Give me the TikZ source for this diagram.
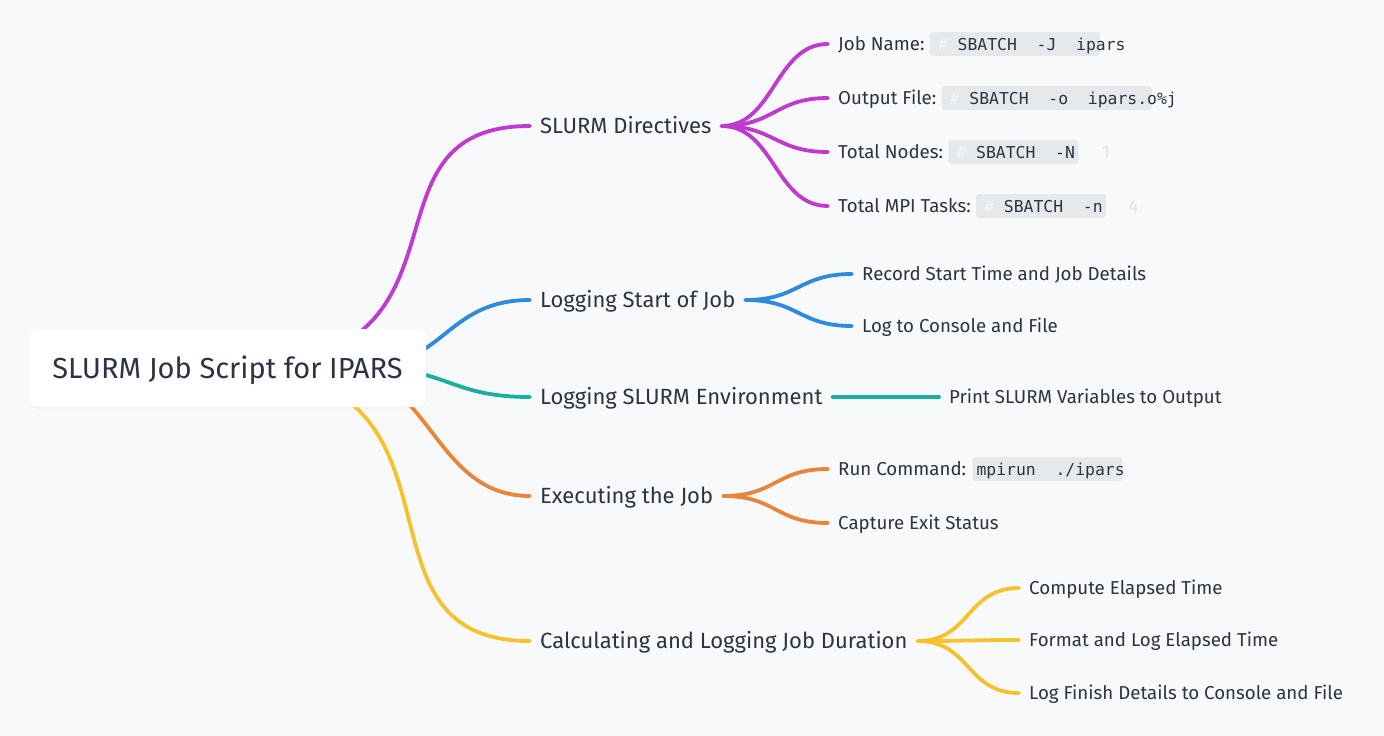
\documentclass[tikz,border=0pt]{standalone}
\usepackage{fontspec}
\setmainfont{Fira Sans}
\setmonofont{DejaVu Sans Mono}
\usetikzlibrary{calc, shadows}
\definecolor{page_bg}{HTML}{F8F9FA}
\definecolor{ink}{HTML}{2A3442}
\definecolor{code_bg}{HTML}{E6E9EC}
\definecolor{faint_gray}{HTML}{E2E5E8}
\definecolor{hash_gray}{HTML}{F4F5F7}
\definecolor{purple_set}{HTML}{BF3ACF}
\definecolor{blue_set}{HTML}{2F89DC}
\definecolor{teal_set}{HTML}{1AAE9E}
\definecolor{orange_set}{HTML}{E9853A}
\definecolor{yellow_set}{HTML}{F5C22C}
\newcommand{\hash}{{\color{hash_gray}\#}}
\tikzset{
  root box/.style={fill=white, rounded corners=8pt, minimum width=397pt,
    minimum height=78pt, inner sep=0pt, text height=20pt, text depth=0pt,
    font=\fontsize{29}{34}\selectfont, text=ink,
    drop shadow={opacity=0.05, shadow xshift=0pt, shadow yshift=-2pt}},
  branch/.style={anchor=west, inner xsep=10pt, inner ysep=0pt,
    text height=15.2pt, text depth=0pt, text=ink,
    font=\fontsize{22}{26}\selectfont},
  leaf/.style={branch, text height=12.9pt, font=\fontsize{18.7}{22}\selectfont},
  code/.style={anchor=west, inner sep=0pt, text height=12pt, text depth=0pt,
    text=ink, font=\ttfamily\fontsize{16.4}{20}\selectfont},
  code box/.style={fill=code_bg, rounded corners=3pt},
  faint/.style={inner sep=0pt, text=faint_gray, font=\fontsize{18.7}{22}\selectfont},
  link/.style={line width=3.8pt, line cap=round},
  kid link/.style={link, to path={.. controls +(53,0) and +(-53,0) .. (\tikztotarget)}}
}

\begin{document}
\begin{tikzpicture}[x=1pt, y=-1pt]

% Page background
\fill[page_bg] (0,0) rectangle (1384,736);
\useasboundingbox (0,0) rectangle (1384,736);

% Main branches
\node[branch] (slurm)    at (530,126) {SLURM Directives};
\node[branch] (logstart) at (530,300) {Logging Start of Job};
\node[branch] (logenv)   at (530,397) {Logging SLURM Environment};
\node[branch] (exec)     at (530,496) {Executing the Job};
\node[branch] (duration) at (530,641) {Calculating and Logging Job Duration};

% Leaves of the directives
\node[leaf] (jobname) at (828,44)  {Job Name:};
\node[leaf] (outfile) at (828,98)  {Output File:};
\node[leaf] (nodes)   at (828,152) {Total Nodes:};
\node[leaf] (tasks)   at (828,206) {Total MPI Tasks:};

% Draw the code snippets next to them
\fill[code box] ($(jobname.east)+(-5,-12)$) rectangle ++(170,24);
\node[code] (jobcode) at ($(jobname.east)+(3,0)$) {\hash~SBATCH~~-J~~ipars};
\fill[code box] ($(outfile.east)+(-5,-12)$) rectangle ++(210,24);
\node[code] (outcode) at ($(outfile.east)+(3,0)$) {\hash~SBATCH~~-o~~ipars.o\%j};
\fill[code box] ($(nodes.east)+(-5,-12)$) rectangle ++(130,24);
\node[code] (nodecode) at ($(nodes.east)+(3,0)$) {\hash~SBATCH~~-N};
\node[faint] (nodecount) at ($(nodes.east)+(152.5,0)$) {1};
\fill[code box] ($(tasks.east)+(-5,-12)$) rectangle ++(130,24);
\node[code] (taskcode) at ($(tasks.east)+(3,0)$) {\hash~SBATCH~~-n};
\node[faint] (taskcount) at ($(tasks.east)+(152.5,0)$) {4};

% Leaves of the logging branches
\node[leaf] (record)    at (852,274) {Record Start Time and Job Details};
\node[leaf] (console)   at (852,326) {Log to Console and File};
\node[leaf] (printvars) at (939,397) {Print SLURM Variables to Output};

% Leaves of the job run
\node[leaf] (runcmd)   at (828,469) {Run Command:};
\fill[code box] ($(runcmd.east)+(-4,-12)$) rectangle ++(150,24);
\node[code] (runcode) at ($(runcmd.east)+(0,0)$) {mpirun~~./ipars};
\node[leaf] (exitstat) at (828,523) {Capture Exit Status};

% Leaves of the duration
\node[leaf] (elapsed) at (1019,588) {Compute Elapsed Time};
\node[leaf] (fmtlog)  at (1019,640) {Format and Log Elapsed Time};
\node[leaf] (finish)  at (1019,693) {Log Finish Details to Console and File};

% Draw the links from the root (the root box covers their start)
\coordinate (hub) at (227.5,368);
\draw[link, purple_set] (hub) .. controls +(269,0) and +(-185,0) .. (slurm.west);
\draw[link, blue_set]   (hub) -- ++(132,0) .. controls +(85,0) and +(-85,0) .. (logstart.west);
\draw[link, teal_set]   (hub) -- ++(140,0) .. controls +(81,0) and +(-81,0) .. (logenv.west);
\draw[link, orange_set] (hub) -- ++(106,0) .. controls +(98,0) and +(-98,0) .. (exec.west);
\draw[link, yellow_set] (hub) .. controls +(265,0) and +(-195,0) .. (duration.west);

% Draw the links to the leaves
\foreach \leaf in {jobname, outfile, nodes, tasks}
  \draw[kid link, purple_set] (slurm.east) to (\leaf.west);
\foreach \leaf in {record, console}
  \draw[kid link, blue_set] (logstart.east) to (\leaf.west);
\draw[link, teal_set] (logenv.east) -- (printvars.west);
\foreach \leaf in {runcmd, exitstat}
  \draw[kid link, orange_set] (exec.east) to (\leaf.west);
\foreach \leaf in {elapsed, fmtlog, finish}
  \draw[kid link, yellow_set] (duration.east) to (\leaf.west);

% The root on top
\node[root box] (root) at (hub) {SLURM Job Script for IPARS};

\end{tikzpicture}
\end{document}
